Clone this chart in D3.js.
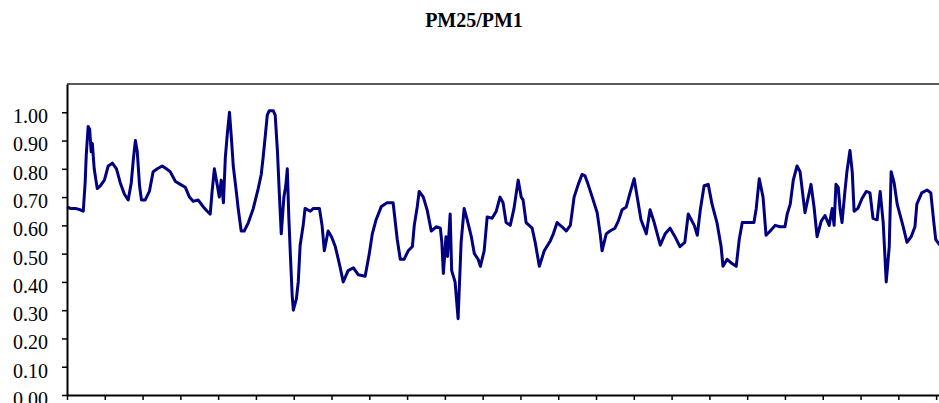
<!DOCTYPE html>
<html>
<head>
<meta charset="utf-8">
<script src="https://cdn.jsdelivr.net/npm/d3@7"></script>
<style>
  body { margin: 0; background: #fff; }
  svg { display: block; }
</style>
</head>
<body>
<div id="container"></div>
<script>
// PM2.5 / PM1 ratio (x = day, one tick per 10 days)
const title = "PM25/PM1";

const day = [
  0, 0.9, 2.2, 3.5, 4.3, 4.8, 5.1, 5.6, 6.0, 6.4,
  6.7, 7.2, 8.0, 8.8, 9.9, 10.9, 12.0, 13.1, 14.1, 15.2,
  16.2, 17.0, 17.6, 18.1, 18.6, 19.2, 19.7, 20.7, 21.8, 22.8,
  23.9, 25.2, 26.3, 27.3, 28.7, 30.0, 31.3, 32.4, 33.4, 34.7,
  36.1, 37.1, 37.9, 38.4, 39.0, 39.8, 40.3, 40.8, 41.4, 41.9,
  42.4, 43.0, 43.5, 44.0, 44.8, 45.3, 46.1, 46.9, 48.0, 49.3,
  50.6, 51.4, 51.9, 52.5, 53.0, 53.5, 54.6, 55.1, 55.7, 56.2,
  56.7, 57.4, 57.9, 58.3, 58.7, 59.1, 59.6, 59.9, 60.7, 61.2,
  61.7, 62.5, 63.0, 64.4, 65.2, 66.8, 67.5, 68.1, 69.1, 70.0,
  71.0, 71.8, 72.3, 73.1, 74.4, 75.8, 77.1, 78.9, 80.0, 80.8,
  81.8, 83.2, 84.7, 86.3, 87.4, 88.2, 89.2, 90.3, 91.4, 91.9,
  92.7, 93.2, 94.3, 95.3, 96.4, 97.7, 98.8, 99.2, 99.6, 100.3,
  100.7, 101.4, 101.8, 102.7, 103.5, 104.3, 105.1, 105.9, 107.0, 107.8,
  108.8, 109.4, 110.4, 111.2, 112.5, 113.6, 114.6, 115.4, 116.2, 117.3,
  118.3, 119.4, 120.2, 120.7, 121.5, 123.1, 123.9, 125.0, 126.3, 127.9,
  128.7, 129.7, 131.0, 132.1, 133.2, 134.2, 135.3, 136.3, 137.1, 137.9,
  139.0, 140.3, 141.1, 141.6, 142.7, 143.7, 145.0, 145.9, 146.9, 148.0,
  149.0, 150.1, 150.9, 151.9, 153.3, 154.3, 155.4, 157.0, 158.3, 159.6,
  160.9, 162.2, 163.5, 164.4, 165.2, 166.0, 166.8, 167.6, 168.6, 169.7,
  170.7, 172.0, 173.1, 173.6, 174.7, 176.0, 177.1, 177.9, 178.7, 180.2,
  181.8, 182.4, 183.2, 184.2, 185.0, 186.1, 187.4, 188.7, 190.0, 190.6,
  191.4, 192.2, 193.2, 194.0, 194.8, 195.3, 196.1, 196.9, 197.7, 198.5,
  199.6, 200.6, 201.7, 202.5, 203.0, 203.5, 204.1, 204.6, 205.1, 205.9,
  206.4, 207.2, 207.8, 208.3, 209.3, 210.4, 211.5, 212.5, 213.3, 214.4,
  215.2, 216.0, 216.8, 217.6, 218.1, 218.9, 219.7, 220.5, 221.3, 222.3,
  223.4, 224.4, 224.9, 226.2, 227.6, 228.6, 229.4, 229.9, 231.0
];

const ratio = [
  0.665, 0.66, 0.66, 0.655, 0.65, 0.75, 0.85, 0.95, 0.94, 0.86,
  0.89, 0.80, 0.73, 0.74, 0.76, 0.81, 0.82, 0.80, 0.75, 0.71,
  0.69, 0.75, 0.84, 0.90, 0.86, 0.74, 0.69, 0.69, 0.72, 0.79,
  0.80, 0.81, 0.80, 0.79, 0.755, 0.745, 0.735, 0.70, 0.685, 0.69,
  0.665, 0.65, 0.64, 0.72, 0.80, 0.74, 0.70, 0.76, 0.68, 0.84,
  0.92, 1.00, 0.91, 0.81, 0.72, 0.66, 0.58, 0.58, 0.61, 0.66,
  0.73, 0.78, 0.84, 0.92, 0.99, 1.005, 1.005, 0.99, 0.86, 0.71,
  0.57, 0.70, 0.74, 0.80, 0.63, 0.50, 0.35, 0.30, 0.34, 0.40,
  0.53, 0.60, 0.66, 0.65, 0.66, 0.66, 0.60, 0.51, 0.58, 0.56,
  0.525, 0.48, 0.45, 0.40, 0.44, 0.45, 0.425, 0.42, 0.50, 0.57,
  0.62, 0.667, 0.68, 0.68, 0.55, 0.48, 0.48, 0.51, 0.525, 0.60,
  0.667, 0.72, 0.70, 0.655, 0.58, 0.595, 0.59, 0.54, 0.43, 0.56,
  0.49, 0.64, 0.44, 0.40, 0.27, 0.54, 0.66, 0.62, 0.56, 0.50,
  0.48, 0.455, 0.51, 0.63, 0.625, 0.65, 0.70, 0.68, 0.61, 0.60,
  0.66, 0.76, 0.70, 0.69, 0.61, 0.59, 0.54, 0.455, 0.51, 0.545,
  0.57, 0.61, 0.595, 0.58, 0.60, 0.70, 0.745, 0.78, 0.775, 0.745,
  0.70, 0.645, 0.57, 0.51, 0.57, 0.58, 0.59, 0.615, 0.655, 0.665,
  0.715, 0.765, 0.70, 0.62, 0.57, 0.655, 0.61, 0.53, 0.57, 0.59,
  0.56, 0.525, 0.54, 0.64, 0.62, 0.60, 0.565, 0.655, 0.74, 0.745,
  0.675, 0.61, 0.525, 0.455, 0.48, 0.465, 0.455, 0.55, 0.61, 0.61,
  0.61, 0.66, 0.765, 0.70, 0.565, 0.58, 0.60, 0.595, 0.595, 0.64,
  0.675, 0.76, 0.81, 0.79, 0.70, 0.645, 0.695, 0.745, 0.665, 0.56,
  0.615, 0.635, 0.60, 0.66, 0.60, 0.745, 0.735, 0.655, 0.61, 0.725,
  0.79, 0.865, 0.79, 0.65, 0.66, 0.695, 0.72, 0.715, 0.625, 0.62,
  0.72, 0.61, 0.40, 0.525, 0.79, 0.75, 0.675, 0.635, 0.595, 0.54,
  0.56, 0.595, 0.675, 0.715, 0.725, 0.715, 0.61, 0.55, 0.53
];

const yTicks = [0, 0.1, 0.2, 0.3, 0.4, 0.5, 0.6, 0.7, 0.8, 0.9, 1.0];
const xTicks = d3.range(0, 240, 10);

const W = 939, H = 403;
const margin = {top: 84, right: -16, bottom: 8, left: 67};

const svg = d3.select("#container")
  .append("svg")
    .attr("width", W)
    .attr("height", H);

const x = d3.scaleLinear()
  .domain([0, 235])
  .range([margin.left, W - margin.right]);

const y = d3.scaleLinear()
  .domain([0, 1.1])
  .range([H - margin.bottom, margin.top]);

// title
svg.append("text")
  .attr("x", 474)
  .attr("y", 27)
  .attr("text-anchor", "middle")
  .style("font-family", "'Liberation Serif', 'Times New Roman', serif")
  .style("font-weight", "bold")
  .style("font-size", "20px")
  .text(title);

// top frame line
svg.append("line")
  .attr("x1", x(0)).attr("x2", x(235))
  .attr("y1", y(1.1)).attr("y2", y(1.1))
  .attr("stroke", "#222")
  .attr("stroke-width", 1.5);

// the ratio line
const pts = day.map((d, i) => ({day: d, value: ratio[i]}));
svg.append("path")
  .datum(pts)
  .attr("fill", "none")
  .attr("stroke", "#000080")
  .attr("stroke-width", 3)
  .attr("stroke-linejoin", "round")
  .attr("d", d3.line().x(d => x(d.day)).y(d => y(d.value)));

// y axis
const yAxis = svg.append("g")
  .attr("transform", `translate(${margin.left},0)`)
  .call(d3.axisLeft(y).tickValues(yTicks).tickFormat(d3.format(".2f")).tickSize(5).tickSizeOuter(0).tickPadding(14));
yAxis.selectAll("text")
  .attr("dy", "0.52em")
  .style("font-family", "'Liberation Serif', 'Times New Roman', serif")
  .style("font-size", "20px")
  .attr("fill", "#000");

// x axis (no labels)
const xAxis = svg.append("g")
  .attr("transform", `translate(0,${y(0)})`)
  .call(d3.axisBottom(x).tickValues(xTicks).tickFormat("").tickSize(5).tickSizeOuter(0));

svg.selectAll(".domain").attr("stroke", "#000").attr("stroke-width", 2);
svg.selectAll(".tick line").attr("stroke", "#000").attr("stroke-width", 1.5);
</script>
</body>
</html>
